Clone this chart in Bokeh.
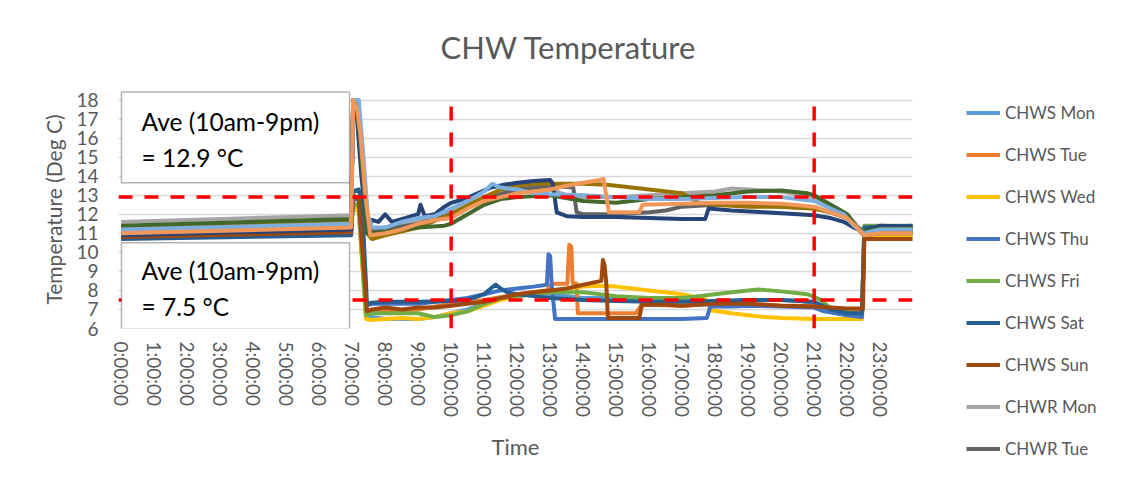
from bokeh.plotting import figure
from bokeh.models import Span, BoxAnnotation, Label, Legend, LegendItem, FixedTicker
from bokeh.embed import file_html
from bokeh.resources import INLINE

# ---------------- data (hours of day, deg C) ----------------
series_names = ["CHWS Mon", "CHWS Tue", "CHWS Wed", "CHWS Thu", "CHWS Fri", "CHWS Sat", "CHWS Sun",
                "CHWR Mon", "CHWR Tue", "CHWR Wed", "CHWR Thu", "CHWR Fri", "CHWR Sat", "CHWR Sun"]

chws_mon_t = [0, 6.97, 7.03, 7.2, 7.42, 7.6, 8.0, 8.5, 9.0, 9.5, 10.0, 10.5, 11.0, 11.5, 12.0, 12.5, 13.0, 13.5, 14.0,
              15.0, 16.0, 17.0, 18.0, 19.0, 20.0, 20.6, 21.0, 21.3, 21.7, 22.0, 22.45, 22.52, 23.0, 24.0]
chws_mon_v = [11.2, 11.5, 12.6, 12.3, 6.7, 6.6, 6.5, 6.5, 6.5, 6.6, 6.8, 7.0, 7.3, 7.6, 7.7, 7.8, 7.8, 7.7, 7.6,
              7.6, 7.5, 7.5, 7.4, 7.5, 7.5, 7.45, 7.3, 7.0, 6.8, 6.7, 6.7, 11.2, 11.25, 11.3]

chws_tue_t = [0, 6.97, 7.03, 7.2, 7.42, 7.6, 8.0, 9.0, 10.0, 11.0, 12.0, 12.9, 13.05, 13.52, 13.58, 13.64, 13.68,
              13.8, 13.84, 14.5, 15.0, 15.6, 15.75, 16.0, 17.0, 18.0, 19.0, 20.0, 21.0, 22.0, 22.45, 22.52, 23.0, 24.0]
chws_tue_v = [11.0, 11.3, 12.5, 12.2, 6.8, 6.9, 6.9, 7.0, 7.3, 7.5, 7.8, 8.0, 8.35, 8.35, 10.4, 10.3, 8.4,
              8.35, 6.8, 6.8, 6.8, 6.8, 7.2, 7.25, 7.2, 7.3, 7.3, 7.2, 7.2, 7.0, 7.0, 10.9, 11.0, 11.0]

chws_wed_t = [0, 6.97, 7.03, 7.2, 7.42, 7.6, 8.0, 8.5, 9.0, 9.5, 10.0, 10.5, 11.0, 11.5, 12.0, 12.5, 13.0, 13.5, 14.0,
              14.5, 15.0, 15.5, 16.0, 16.5, 17.0, 17.5, 17.75, 17.9, 18.5, 19.0, 19.5, 20.0, 21.0, 22.0, 22.45,
              22.52, 23.0, 24.0]
chws_wed_v = [10.9, 11.2, 12.4, 12.1, 6.5, 6.45, 6.5, 6.55, 6.5, 6.6, 6.8, 6.9, 7.2, 7.5, 7.7, 7.8, 7.9, 8.1, 8.2,
              8.25, 8.2, 8.1, 8.0, 7.9, 7.8, 7.6, 7.5, 6.95, 6.8, 6.7, 6.6, 6.55, 6.5, 6.5, 6.5,
              10.8, 10.8, 10.8]

chws_thu_t = [0, 6.97, 7.03, 7.2, 7.42, 7.6, 8.0, 9.0, 10.0, 10.5, 11.0, 11.5, 12.0, 12.5, 12.9, 12.95, 13.0, 13.05,
              13.15, 13.5, 14.0, 15.0, 16.0, 17.0, 17.75, 17.85, 18.5, 19.0, 20.0, 21.0, 21.3, 22.0, 22.45, 22.52,
              23.0, 24.0]
chws_thu_v = [10.8, 11.1, 12.9, 12.7, 7.2, 7.3, 7.3, 7.3, 7.5, 7.6, 7.8, 8.0, 8.1, 8.2, 8.3, 9.9, 9.8, 8.2,
              6.5, 6.5, 6.5, 6.5, 6.5, 6.5, 6.55, 7.15, 7.15, 7.2, 7.15, 7.1, 6.9, 6.7, 6.6, 10.9,
              11.0, 11.0]

chws_fri_t = [0, 6.97, 7.03, 7.2, 7.42, 7.6, 8.0, 9.0, 9.5, 10.0, 10.5, 11.0, 11.5, 12.0, 12.5, 13.0, 14.0, 15.0,
              16.0, 17.0, 17.5, 18.0, 18.5, 19.3, 20.0, 20.8, 21.2, 21.5, 22.0, 22.45, 22.52, 23.0, 24.0]
chws_fri_v = [11.3, 11.6, 12.6, 12.4, 6.7, 6.8, 6.8, 6.8, 6.6, 6.7, 6.9, 7.3, 7.6, 7.7, 7.8, 7.9, 7.9, 7.7,
              7.6, 7.6, 7.7, 7.8, 7.9, 8.05, 7.95, 7.8, 7.5, 7.05, 6.85, 6.8, 11.4, 11.4, 11.4]

chws_sat_t = [0, 6.97, 7.03, 7.2, 7.3, 7.45, 7.6, 8.0, 9.0, 10.0, 10.5, 11.0, 11.2, 11.35, 11.5, 11.7, 12.0, 12.5,
              13.0, 14.0, 15.0, 16.0, 17.0, 18.0, 19.0, 20.0, 21.0, 21.5, 22.0, 22.45, 22.52, 23.0, 24.0]
chws_sat_v = [10.7, 10.9, 13.2, 13.3, 12.5, 7.3, 7.35, 7.4, 7.4, 7.45, 7.5, 7.8, 8.1, 8.3, 8.1, 7.9, 7.8, 7.7,
              7.6, 7.5, 7.45, 7.4, 7.4, 7.45, 7.5, 7.5, 7.4, 7.0, 6.8, 6.8, 11.3, 11.35, 11.4]

chws_sun_t = [0, 6.97, 7.03, 7.2, 7.45, 7.6, 8.0, 8.5, 9.0, 9.5, 10.0, 10.5, 11.0, 11.5, 12.0, 12.5, 13.0, 13.5,
              14.0, 14.55, 14.6, 14.65, 14.7, 14.75, 15.2, 15.7, 15.78, 16.5, 17.0, 18.0, 19.0, 20.0, 21.0, 22.0,
              22.48, 22.52, 23.0, 24.0]
chws_sun_v = [10.8, 11.05, 13.0, 12.8, 6.9, 7.0, 7.1, 7.0, 7.1, 7.1, 7.2, 7.3, 7.4, 7.6, 7.8, 7.9, 8.0, 8.1,
              8.3, 8.5, 9.6, 9.3, 8.4, 6.55, 6.55, 6.55, 7.25, 7.25, 7.2, 7.3, 7.3, 7.2, 7.15, 7.05,
              7.05, 10.7, 10.7, 10.7]

chwr_mon_t = [0, 6.97, 7.03, 7.15, 7.28, 7.42, 7.6, 8.0, 9.0, 10.0, 11.0, 12.0, 13.0, 13.5, 14.0, 15.0, 16.0, 17.0,
              18.0, 18.5, 19.0, 20.0, 21.0, 21.5, 22.0, 22.3, 22.5, 23.0, 24.0]
chwr_mon_v = [11.6, 11.95, 18.0, 18.0, 15.0, 11.5, 11.2, 11.3, 11.6, 12.1, 12.9, 13.3, 13.3, 13.0, 12.9, 12.9,
              13.0, 13.1, 13.2, 13.35, 13.3, 13.2, 12.9, 12.5, 12.0, 11.4, 11.1, 11.2, 11.2]

chwr_tue_t = [0, 6.97, 7.03, 7.15, 7.28, 7.42, 7.6, 8.0, 9.0, 10.0, 11.0, 12.0, 13.0, 13.7, 13.8, 14.0, 15.0, 16.0,
              16.5, 17.0, 18.0, 19.0, 20.0, 21.0, 21.5, 22.0, 22.3, 22.5, 23.0, 24.0]
chwr_tue_v = [11.3, 11.6, 18.0, 18.0, 15.0, 11.4, 11.1, 11.2, 11.5, 12.0, 12.8, 13.3, 13.5, 13.4, 12.1, 12.0,
              12.0, 12.1, 12.2, 12.4, 12.5, 12.5, 12.4, 12.3, 12.1, 11.8, 11.3, 10.9, 11.1, 11.1]

chwr_wed_t = [0, 6.97, 7.03, 7.15, 7.28, 7.45, 7.6, 8.0, 9.0, 10.0, 11.0, 11.5, 12.0, 12.5, 13.0, 14.0, 14.7, 15.0,
              16.0, 17.0, 17.5, 18.0, 19.0, 20.0, 21.0, 21.5, 22.0, 22.3, 22.5, 23.0, 24.0]
chwr_wed_v = [11.3, 11.7, 18.0, 18.0, 16.0, 11.0, 10.7, 10.9, 11.3, 12.0, 12.9, 13.3, 13.5, 13.6, 13.6, 13.6,
              13.55, 13.5, 13.3, 13.1, 12.6, 12.5, 12.4, 12.4, 12.3, 12.1, 11.8, 11.3, 10.9, 11.0, 11.0]

chwr_thu_t = [0, 6.97, 7.03, 7.15, 7.28, 7.45, 7.6, 7.8, 8.0, 8.2, 8.6, 9.0, 9.07, 9.2, 9.5, 9.8, 10.0, 10.4, 10.8,
              11.2, 11.6, 12.0, 12.5, 13.0, 13.08, 13.2, 13.5, 14.0, 15.0, 16.0, 17.0, 17.7, 17.8, 18.5, 19.5,
              20.5, 21.0, 21.5, 21.9, 22.2, 22.5, 23.0, 24.0]
chwr_thu_v = [10.9, 11.2, 17.5, 17.0, 14.0, 11.2, 11.7, 11.6, 12.0, 11.6, 11.8, 12.0, 12.5, 11.9, 12.0, 12.4,
              12.6, 12.8, 13.1, 13.4, 13.55, 13.65, 13.75, 13.8, 13.6, 12.1, 11.9, 11.85, 11.85, 11.8, 11.75,
              11.75, 12.3, 12.2, 12.1, 12.0, 11.95, 11.8, 11.6, 11.3, 11.1, 11.4, 11.35]

chwr_fri_t = [0, 6.97, 7.03, 7.15, 7.28, 7.45, 7.6, 8.0, 9.0, 9.8, 10.0, 10.5, 11.0, 11.5, 12.0, 13.0, 14.0, 15.0,
              16.0, 17.0, 18.0, 19.0, 20.0, 20.8, 21.0, 21.5, 22.0, 22.3, 22.5, 23.0, 24.0]
chwr_fri_v = [11.4, 11.75, 18.0, 18.0, 15.0, 11.0, 11.0, 11.1, 11.3, 11.4, 11.5, 12.0, 12.5, 12.8, 12.9, 13.0,
              12.7, 12.6, 12.8, 12.9, 13.0, 13.2, 13.25, 13.1, 13.0, 12.5, 12.0, 11.3, 11.1, 11.25, 11.25]

chwr_sat_t = [0, 6.97, 7.03, 7.2, 7.32, 7.47, 7.6, 8.0, 8.5, 9.0, 9.5, 10.0, 10.5, 11.0, 11.25, 11.5, 12.0, 12.5,
              13.0, 14.0, 15.0, 16.0, 17.0, 18.0, 19.0, 20.0, 21.0, 21.5, 21.9, 22.2, 22.5, 23.0, 24.0]
chwr_sat_v = [11.2, 11.5, 18.0, 18.0, 15.5, 12.0, 11.3, 11.3, 11.6, 11.8, 11.9, 12.3, 12.7, 13.2, 13.6, 13.4,
              13.3, 13.1, 13.05, 13.0, 12.9, 12.8, 12.8, 12.85, 12.9, 12.9, 12.7, 12.3, 12.0, 11.4, 11.0, 11.2, 11.2]

chwr_sun_t = [0, 6.97, 7.03, 7.15, 7.25, 7.4, 7.55, 8.0, 8.5, 9.0, 9.5, 10.0, 10.5, 11.0, 11.5, 12.0, 12.5, 13.0,
              13.5, 14.0, 14.5, 14.62, 14.78, 15.0, 15.7, 15.8, 17.0, 18.0, 19.0, 20.0, 21.0, 21.5, 22.0, 22.3,
              22.5, 23.0, 24.0]
chwr_sun_v = [11.0, 11.3, 18.0, 17.5, 16.2, 13.0, 10.9, 11.0, 11.2, 11.5, 11.7, 11.8, 12.3, 12.7, 12.9, 13.1,
              13.2, 13.3, 13.5, 13.65, 13.8, 13.85, 12.1, 12.1, 12.1, 12.5, 12.55, 12.6, 12.6, 12.55, 12.4, 12.1,
              11.8, 11.3, 10.9, 11.0, 11.0]

series_t = [chws_mon_t, chws_tue_t, chws_wed_t, chws_thu_t, chws_fri_t, chws_sat_t, chws_sun_t,
            chwr_mon_t, chwr_tue_t, chwr_wed_t, chwr_thu_t, chwr_fri_t, chwr_sat_t, chwr_sun_t]
series_v = [chws_mon_v, chws_tue_v, chws_wed_v, chws_thu_v, chws_fri_v, chws_sat_v, chws_sun_v,
            chwr_mon_v, chwr_tue_v, chwr_wed_v, chwr_thu_v, chwr_fri_v, chwr_sat_v, chwr_sun_v]

hour_ticks = list(range(24))
hour_labels = ["%d:00:00" % h for h in hour_ticks]
temp_ticks = list(range(6, 19))

ave_supply = 7.5
ave_return = 12.9
window_start = 10
window_end = 21
ave_return_text = ["Ave (10am-9pm)", "= 12.9 \u00b0C"]
ave_supply_text = ["Ave (10am-9pm)", "= 7.5 \u00b0C"]
legend_count = 9

# ---------------- styles ----------------
colors = ["#5B9BD5", "#ED7D31", "#FFC000", "#4472C4", "#70AD47", "#255E91", "#9E480E",
          "#A5A5A5", "#636363", "#997300", "#264478", "#43682B", "#7CAFDD", "#F1975A"]
FONT = "Lato"
GREY = "#595959"

p = figure(frame_width=794, frame_height=238,
           min_border_left=118, min_border_right=210, min_border_top=89, min_border_bottom=146,
           x_range=(-0.08, 23.98), y_range=(6, 18.5),
           output_backend="svg", toolbar_location=None)
p.outline_line_color = None
p.xgrid.grid_line_color = None
p.ygrid.grid_line_color = "#D9D9D9"
p.ygrid.grid_line_width = 1.3

# title
p.title.text = "CHW Temperature"
p.title.text_font = FONT
p.title.text_font_size = "31px"
p.title.text_font_style = "normal"
p.title.text_color = GREY
p.title.align = "left"
p.title.offset = 322
p.title.standoff = 50

renderers = []
for t, v, c in zip(series_t, series_v, colors):
    r = p.line(t, v, line_color=c, line_width=4, line_join="round")
    renderers.append(r)

# axes
p.xaxis.ticker = FixedTicker(ticks=hour_ticks)
p.xaxis.major_label_overrides = {h: lab for h, lab in zip(hour_ticks, hour_labels)}
p.xaxis.major_label_orientation = "vertical"
p.yaxis.ticker = FixedTicker(ticks=temp_ticks)
for ax in (p.xaxis[0], p.yaxis[0]):
    ax.axis_line_color = None
    ax.major_tick_line_color = None
    ax.minor_tick_line_color = None
    ax.major_tick_out = 0
    ax.major_tick_in = 0
    ax.major_label_text_color = GREY
    ax.major_label_text_font = FONT
    ax.axis_label_text_color = GREY
    ax.axis_label_text_font = FONT
    ax.axis_label_text_font_style = "normal"
p.xaxis.major_label_text_font_size = "19px"
p.yaxis.major_label_text_font_size = "19px"
p.xaxis.major_label_standoff = 13
p.yaxis.major_label_standoff = 20
p.xaxis.axis_label = "Time"
p.yaxis.axis_label = "Temperature (Deg C)"
p.xaxis.axis_label_text_font_size = "22px"
p.yaxis.axis_label_text_font_size = "21px"
p.xaxis.axis_label_standoff = 13
p.yaxis.axis_label_standoff = 7

# average / window lines
dash = dict(line_color="#FF0000", line_width=3.5, line_dash="14 12")
p.segment(x0=[window_start, window_end], y0=[6, 6], x1=[window_start, window_end], y1=[18.05, 18.05], **dash)
for loc in (ave_return, ave_supply):
    p.add_layout(Span(location=loc, dimension="width", **dash))

# annotation boxes
box_style = dict(fill_color="white", fill_alpha=1.0, line_color="black", line_width=1.5)
p.add_layout(BoxAnnotation(left=0.01, right=6.92, top=18.42, bottom=13.65, **box_style))
p.add_layout(BoxAnnotation(left=0.01, right=6.92, top=10.51, bottom=5.97, **box_style))
for txt, yy in zip(ave_return_text + ave_supply_text, [16.87, 14.96, 9.04, 7.15]):
    p.add_layout(Label(x=0.62, y=yy, text=txt, text_font=FONT, text_font_size="24.5px",
                       text_color="black", text_baseline="alphabetic"))

# legend
items = [LegendItem(label=n, renderers=[r]) for n, r in zip(series_names[:legend_count], renderers[:legend_count])]
legend = Legend(items=items, location=(54, -131), padding=0, margin=0,
                glyph_width=34, glyph_height=21, label_height=21, spacing=21, label_standoff=5,
                label_text_font=FONT, label_text_font_size="17px", label_text_color=GREY,
                background_fill_alpha=0, border_line_color=None)
p.add_layout(legend, "right")

open("out.html", "w").write(file_html(p, INLINE))
